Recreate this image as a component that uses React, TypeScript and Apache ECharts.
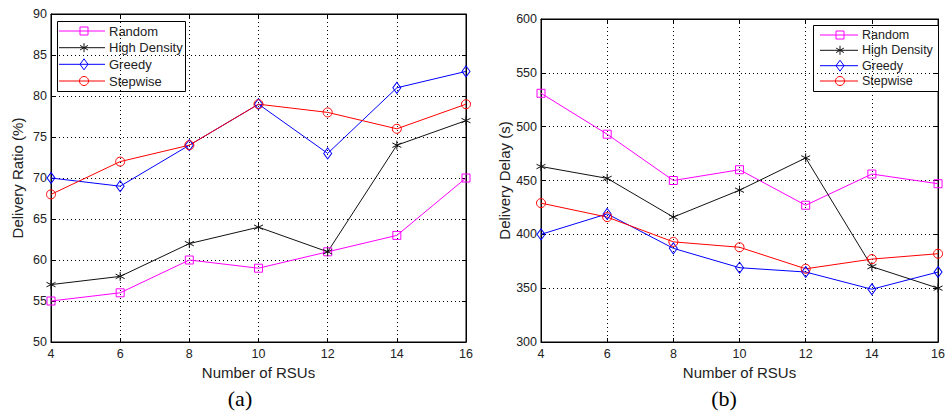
import React, { useEffect, useRef } from "react";
import * as echarts from "echarts";

const xValues = [4, 6, 8, 10, 12, 14, 16];
const seriesNames = ["Random", "High Density", "Greedy", "Stepwise"];

// (a) Delivery Ratio (%)
const ratioRandom = [55, 56, 60, 59, 61, 63, 70];
const ratioHighDensity = [57, 58, 62, 64, 61, 74, 77];
const ratioGreedy = [70, 69, 74, 79, 73, 81, 83];
const ratioStepwise = [68, 72, 74, 79, 78, 76, 79];

// (b) Delivery Delay (s)
const delayRandom = [531, 493, 450, 460, 427, 456, 447];
const delayHighDensity = [463, 452, 416, 441, 471, 370, 350];
const delayGreedy = [400, 419, 387, 369, 365, 349, 365];
const delayStepwise = [429, 416, 393, 388, 368, 377, 382];

const colors = ["#ff00ff", "#111111", "#0000ff", "#ff0000"];
const STAR = "path://M5,0L5,10M0.67,2.5L9.33,7.5M0.67,7.5L9.33,2.5";
const symbols = ["rect", STAR, "diamond", "circle"];
const symbolSizes: any[] = [8, 9, [8, 11], 9];

const FONT = "Liberation Sans, Arial, sans-serif";

function buildSeries(data: number[][], xi: number, yi: number) {
  return data.map((vals, i) => ({
    name: seriesNames[i],
    type: "line",
    xAxisIndex: xi,
    yAxisIndex: yi,
    data: vals.map((v, k) => [xValues[k], v]),
    symbol: symbols[i],
    symbolSize: symbolSizes[i],
    showSymbol: true,
    lineStyle: { color: colors[i], width: 1 },
    itemStyle: { color: "rgba(0,0,0,0)", borderColor: colors[i], borderWidth: 1 },
    emphasis: { disabled: true },
    z: 3,
  }));
}

function xAxes(gridIndex: number) {
  const base = {
    type: "value",
    gridIndex,
    min: 4,
    max: 16,
    interval: 2,
    axisLine: { show: true, lineStyle: { color: "#000", width: 1 } },
    axisTick: { show: true, inside: true, length: 4, lineStyle: { color: "#000" } },
  };
  return [
    {
      ...base,
      position: "bottom",
      name: "Number of RSUs",
      nameLocation: "middle",
      nameGap: 21,
      nameTextStyle: { fontFamily: FONT, fontSize: 15, color: "#222" },
      axisLabel: { fontFamily: FONT, fontSize: 12.5, color: "#222", margin: 5 },
      splitLine: { show: true, lineStyle: { color: "#000", type: [1, 3], width: 1 } },
    },
    {
      ...base,
      position: "top",
      axisLabel: { show: false },
      splitLine: { show: false },
    },
  ];
}

function yAxes(gridIndex: number, min: number, max: number, interval: number, name: string, gap: number) {
  const base = {
    type: "value",
    gridIndex,
    min,
    max,
    interval,
    axisLine: { show: true, lineStyle: { color: "#000", width: 1 } },
    axisTick: { show: true, inside: true, length: 4, lineStyle: { color: "#000" } },
  };
  return [
    {
      ...base,
      position: "left",
      name,
      nameLocation: "middle",
      nameGap: gap,
      nameTextStyle: { fontFamily: FONT, fontSize: 15, color: "#222" },
      axisLabel: { fontFamily: FONT, fontSize: 12.5, color: "#222", margin: 4 },
      splitLine: { show: true, lineStyle: { color: "#000", type: [1, 3], width: 1 } },
    },
    {
      ...base,
      position: "right",
      axisLabel: { show: false },
      splitLine: { show: false },
    },
  ];
}

function legendMarker(i: number, cx: number, cy: number) {
  const stroke = { stroke: colors[i], fill: "none", lineWidth: 1 };
  if (i === 0) return { type: "rect", shape: { x: cx - 4, y: cy - 4, width: 8, height: 8 }, style: stroke };
  if (i === 1) {
    const r = 4.5;
    const dx = r * 0.866;
    const dy = r * 0.5;
    return {
      type: "group",
      children: [
        { type: "line", shape: { x1: cx, y1: cy - r, x2: cx, y2: cy + r }, style: stroke },
        { type: "line", shape: { x1: cx - dx, y1: cy - dy, x2: cx + dx, y2: cy + dy }, style: stroke },
        { type: "line", shape: { x1: cx - dx, y1: cy + dy, x2: cx + dx, y2: cy - dy }, style: stroke },
      ],
    };
  }
  if (i === 2)
    return {
      type: "polygon",
      shape: { points: [[cx, cy - 5.5], [cx + 4, cy], [cx, cy + 5.5], [cx - 4, cy]] },
      style: stroke,
    };
  return { type: "circle", shape: { cx, cy, r: 4.5 }, style: stroke };
}

function buildLegend(
  box: { x: number; y: number; w: number; h: number },
  rows: number[],
  lineX1: number,
  lineX2: number,
  markX: number,
  textX: number,
  fontSize: number
) {
  const children: any[] = [
    {
      type: "rect",
      shape: { x: box.x, y: box.y, width: box.w, height: box.h },
      style: { fill: "#fff", stroke: "#000", lineWidth: 1 },
    },
  ];
  seriesNames.forEach((name, i) => {
    const y = rows[i];
    children.push({
      type: "line",
      shape: { x1: lineX1, y1: y, x2: lineX2, y2: y },
      style: { stroke: colors[i], lineWidth: 1 },
    });
    children.push(legendMarker(i, markX, y));
    children.push({
      type: "text",
      x: textX,
      y,
      style: {
        text: name,
        fontFamily: FONT,
        fontSize,
        fill: "#222",
        align: "left",
        verticalAlign: "middle",
      },
    });
  });
  return { type: "group", z: 100, children };
}

export default function App() {
  const ref = useRef<HTMLDivElement>(null);
  useEffect(() => {
    if (!ref.current) return;
    const chart = echarts.init(ref.current, undefined, { renderer: "svg" });
    const option: any = {
      animation: false,
      backgroundColor: "#ffffff",
      grid: [
        { left: 51, top: 14, width: 415, height: 328, show: true, borderColor: "#000", borderWidth: 1, backgroundColor: "transparent" },
        { left: 541, top: 19, width: 402, height: 323, show: true, borderColor: "#000", borderWidth: 1, backgroundColor: "transparent" },
      ],
      xAxis: [...xAxes(0), ...xAxes(1)],
      yAxis: [
        ...yAxes(0, 50, 90, 5, "Delivery Ratio (%)", 26),
        ...yAxes(1, 300, 600, 50, "Delivery Delay (s)", 24),
      ],
      series: [
        ...buildSeries([ratioRandom, ratioHighDensity, ratioGreedy, ratioStepwise], 0, 0),
        ...buildSeries([delayRandom, delayHighDensity, delayGreedy, delayStepwise], 2, 2),
      ],
      graphic: [
        buildLegend({ x: 57.5, y: 21.5, w: 128, h: 70 }, [31, 47.7, 64.3, 81], 59, 105, 84, 109, 13),
        buildLegend({ x: 813.5, y: 25.5, w: 125, h: 66 }, [35, 50.3, 65.7, 81], 820, 858, 840, 862, 12.5),
        {
          type: "text",
          x: 240,
          y: 398,
          style: {
            text: "(a)",
            font: '22px "Liberation Serif", "Times New Roman", serif',
            fill: "#000",
            align: "center",
            verticalAlign: "middle",
          },
        },
        {
          type: "text",
          x: 724,
          y: 398,
          style: {
            text: "(b)",
            font: '22px "Liberation Serif", "Times New Roman", serif',
            fill: "#000",
            align: "center",
            verticalAlign: "middle",
          },
        },
      ],
    };
    chart.setOption(option);
    return () => chart.dispose();
  }, []);
  return (
    <div
      ref={ref}
      style={{ position: "fixed", left: 0, top: 0, width: 948, height: 413, background: "#fff" }}
    />
  );
}
